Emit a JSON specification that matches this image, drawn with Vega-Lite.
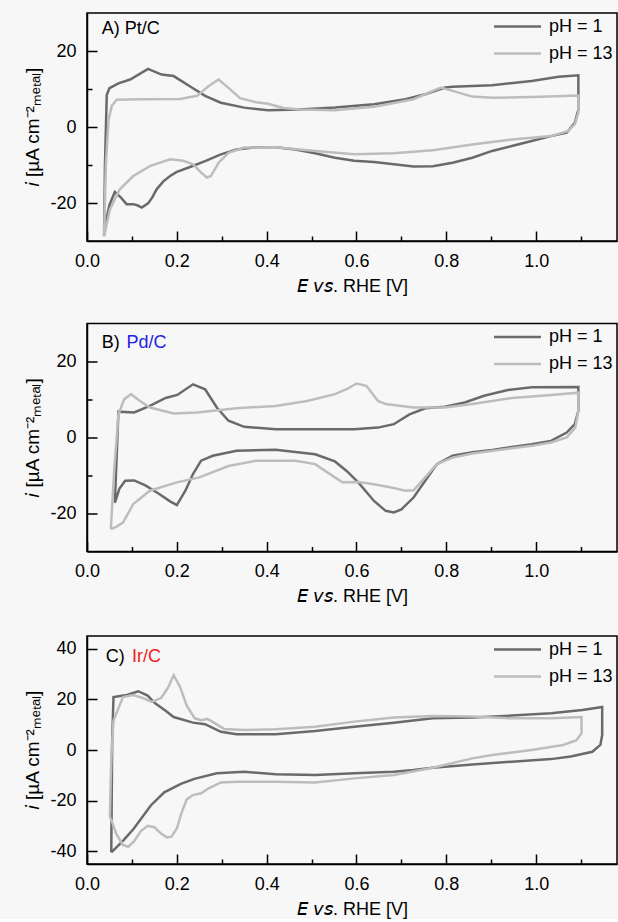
{
  "$schema": "https://vega.github.io/schema/vega-lite/v6.json",
  "background": "#f7f7f7",
  "padding": {"left": 23, "top": 12, "right": 0, "bottom": 0},
  "config": {
    "font": "Liberation Sans",
    "view": {"stroke": "black", "strokeWidth": 1.5},
    "axis": {
      "domainColor": "black", "domainWidth": 1.5, "tickColor": "black", "tickWidth": 1.5,
      "labelFont": "Liberation Sans", "labelFontSize": 18, "labelColor": "black", "labelPadding": 21,
      "titleFont": "Liberation Sans", "titleFontSize": 18, "titleFontWeight": "normal", "titleColor": "black",
      "grid": false, "labelOverlap": false, "labelFlush": false
    },
    "axisY": {"titleFontSize": 19},
    "legend": {
      "orient": "top-right", "offset": 0, "padding": 4, "title": null,
      "symbolType": "M-3,0H3", "symbolSize": 245, "symbolStrokeWidth": 2.5,
      "labelFont": "Liberation Sans", "labelFontSize": 18, "labelColor": "black", "labelOffset": 22, "rowPadding": 8
    }
  },
  "datasets": {
    "cv": [
      {"panel":"A","series":"pH = 1","k":0,"E":0.038,"i":-28.6},
      {"panel":"A","series":"pH = 1","k":1,"E":0.04,"i":-10},
      {"panel":"A","series":"pH = 1","k":2,"E":0.044,"i":8.5},
      {"panel":"A","series":"pH = 1","k":3,"E":0.05,"i":10.2},
      {"panel":"A","series":"pH = 1","k":4,"E":0.07,"i":11.5},
      {"panel":"A","series":"pH = 1","k":5,"E":0.096,"i":12.5},
      {"panel":"A","series":"pH = 1","k":6,"E":0.136,"i":15.3},
      {"panel":"A","series":"pH = 1","k":7,"E":0.166,"i":13.8},
      {"panel":"A","series":"pH = 1","k":8,"E":0.193,"i":13.4},
      {"panel":"A","series":"pH = 1","k":9,"E":0.228,"i":10.8},
      {"panel":"A","series":"pH = 1","k":10,"E":0.263,"i":8.2},
      {"panel":"A","series":"pH = 1","k":11,"E":0.298,"i":6.4},
      {"panel":"A","series":"pH = 1","k":12,"E":0.35,"i":5.1},
      {"panel":"A","series":"pH = 1","k":13,"E":0.403,"i":4.4},
      {"panel":"A","series":"pH = 1","k":14,"E":0.473,"i":4.6},
      {"panel":"A","series":"pH = 1","k":15,"E":0.552,"i":5.1},
      {"panel":"A","series":"pH = 1","k":16,"E":0.639,"i":6.0},
      {"panel":"A","series":"pH = 1","k":17,"E":0.709,"i":7.3},
      {"panel":"A","series":"pH = 1","k":18,"E":0.753,"i":8.6},
      {"panel":"A","series":"pH = 1","k":19,"E":0.797,"i":10.4},
      {"panel":"A","series":"pH = 1","k":20,"E":0.814,"i":10.6},
      {"panel":"A","series":"pH = 1","k":21,"E":0.902,"i":11.0},
      {"panel":"A","series":"pH = 1","k":22,"E":0.99,"i":12.1},
      {"panel":"A","series":"pH = 1","k":23,"E":1.05,"i":13.2},
      {"panel":"A","series":"pH = 1","k":24,"E":1.094,"i":13.6},
      {"panel":"A","series":"pH = 1","k":25,"E":1.094,"i":4.6},
      {"panel":"A","series":"pH = 1","k":26,"E":1.086,"i":1.1},
      {"panel":"A","series":"pH = 1","k":27,"E":1.068,"i":-1.5},
      {"panel":"A","series":"pH = 1","k":28,"E":1.033,"i":-2.4},
      {"panel":"A","series":"pH = 1","k":29,"E":0.99,"i":-3.7},
      {"panel":"A","series":"pH = 1","k":30,"E":0.946,"i":-5.0},
      {"panel":"A","series":"pH = 1","k":31,"E":0.902,"i":-6.3},
      {"panel":"A","series":"pH = 1","k":32,"E":0.858,"i":-8.1},
      {"panel":"A","series":"pH = 1","k":33,"E":0.814,"i":-9.4},
      {"panel":"A","series":"pH = 1","k":34,"E":0.77,"i":-10.3},
      {"panel":"A","series":"pH = 1","k":35,"E":0.727,"i":-10.4},
      {"panel":"A","series":"pH = 1","k":36,"E":0.683,"i":-9.8},
      {"panel":"A","series":"pH = 1","k":37,"E":0.639,"i":-9.2},
      {"panel":"A","series":"pH = 1","k":38,"E":0.595,"i":-8.9},
      {"panel":"A","series":"pH = 1","k":39,"E":0.552,"i":-8.1},
      {"panel":"A","series":"pH = 1","k":40,"E":0.508,"i":-6.9},
      {"panel":"A","series":"pH = 1","k":41,"E":0.464,"i":-5.9},
      {"panel":"A","series":"pH = 1","k":42,"E":0.42,"i":-5.3},
      {"panel":"A","series":"pH = 1","k":43,"E":0.377,"i":-5.3},
      {"panel":"A","series":"pH = 1","k":44,"E":0.333,"i":-5.9},
      {"panel":"A","series":"pH = 1","k":45,"E":0.298,"i":-7.2},
      {"panel":"A","series":"pH = 1","k":46,"E":0.263,"i":-9.0},
      {"panel":"A","series":"pH = 1","k":47,"E":0.228,"i":-10.6},
      {"panel":"A","series":"pH = 1","k":48,"E":0.2,"i":-11.8},
      {"panel":"A","series":"pH = 1","k":49,"E":0.185,"i":-12.9},
      {"panel":"A","series":"pH = 1","k":50,"E":0.17,"i":-14.3},
      {"panel":"A","series":"pH = 1","k":51,"E":0.155,"i":-16.4},
      {"panel":"A","series":"pH = 1","k":52,"E":0.145,"i":-18.6},
      {"panel":"A","series":"pH = 1","k":53,"E":0.136,"i":-20.1},
      {"panel":"A","series":"pH = 1","k":54,"E":0.122,"i":-21.2},
      {"panel":"A","series":"pH = 1","k":55,"E":0.112,"i":-20.6},
      {"panel":"A","series":"pH = 1","k":56,"E":0.103,"i":-20.3},
      {"panel":"A","series":"pH = 1","k":57,"E":0.088,"i":-20.3},
      {"panel":"A","series":"pH = 1","k":58,"E":0.075,"i":-18.5},
      {"panel":"A","series":"pH = 1","k":59,"E":0.062,"i":-17.1},
      {"panel":"A","series":"pH = 1","k":60,"E":0.05,"i":-20.5},
      {"panel":"A","series":"pH = 1","k":61,"E":0.042,"i":-25},
      {"panel":"A","series":"pH = 1","k":62,"E":0.038,"i":-28.6},

      {"panel":"A","series":"pH = 13","k":0,"E":0.038,"i":-28.8},
      {"panel":"A","series":"pH = 13","k":1,"E":0.042,"i":-10},
      {"panel":"A","series":"pH = 13","k":2,"E":0.048,"i":2},
      {"panel":"A","series":"pH = 13","k":3,"E":0.055,"i":5.5},
      {"panel":"A","series":"pH = 13","k":4,"E":0.066,"i":7.2},
      {"panel":"A","series":"pH = 13","k":5,"E":0.118,"i":7.3},
      {"panel":"A","series":"pH = 13","k":6,"E":0.207,"i":7.4},
      {"panel":"A","series":"pH = 13","k":7,"E":0.245,"i":8.2},
      {"panel":"A","series":"pH = 13","k":8,"E":0.271,"i":10.8},
      {"panel":"A","series":"pH = 13","k":9,"E":0.293,"i":12.5},
      {"panel":"A","series":"pH = 13","k":10,"E":0.315,"i":10.3},
      {"panel":"A","series":"pH = 13","k":11,"E":0.341,"i":7.6},
      {"panel":"A","series":"pH = 13","k":12,"E":0.377,"i":6.5},
      {"panel":"A","series":"pH = 13","k":13,"E":0.403,"i":6.1},
      {"panel":"A","series":"pH = 13","k":14,"E":0.438,"i":5.0},
      {"panel":"A","series":"pH = 13","k":15,"E":0.473,"i":4.6},
      {"panel":"A","series":"pH = 13","k":16,"E":0.552,"i":4.4},
      {"panel":"A","series":"pH = 13","k":17,"E":0.639,"i":5.3},
      {"panel":"A","series":"pH = 13","k":18,"E":0.727,"i":7.3},
      {"panel":"A","series":"pH = 13","k":19,"E":0.77,"i":9.5},
      {"panel":"A","series":"pH = 13","k":20,"E":0.788,"i":10.4},
      {"panel":"A","series":"pH = 13","k":21,"E":0.814,"i":9.5},
      {"panel":"A","series":"pH = 13","k":22,"E":0.858,"i":8.0},
      {"panel":"A","series":"pH = 13","k":23,"E":0.902,"i":7.7},
      {"panel":"A","series":"pH = 13","k":24,"E":0.99,"i":7.9},
      {"panel":"A","series":"pH = 13","k":25,"E":1.094,"i":8.3},
      {"panel":"A","series":"pH = 13","k":26,"E":1.094,"i":3.8},
      {"panel":"A","series":"pH = 13","k":27,"E":1.086,"i":0.7},
      {"panel":"A","series":"pH = 13","k":28,"E":1.07,"i":-1.1},
      {"panel":"A","series":"pH = 13","k":29,"E":1.033,"i":-2.4},
      {"panel":"A","series":"pH = 13","k":30,"E":0.99,"i":-2.8},
      {"panel":"A","series":"pH = 13","k":31,"E":0.946,"i":-3.3},
      {"panel":"A","series":"pH = 13","k":32,"E":0.858,"i":-4.6},
      {"panel":"A","series":"pH = 13","k":33,"E":0.77,"i":-6.1},
      {"panel":"A","series":"pH = 13","k":34,"E":0.683,"i":-6.9},
      {"panel":"A","series":"pH = 13","k":35,"E":0.595,"i":-7.2},
      {"panel":"A","series":"pH = 13","k":36,"E":0.508,"i":-6.3},
      {"panel":"A","series":"pH = 13","k":37,"E":0.42,"i":-5.3},
      {"panel":"A","series":"pH = 13","k":38,"E":0.35,"i":-5.4},
      {"panel":"A","series":"pH = 13","k":39,"E":0.315,"i":-6.8},
      {"panel":"A","series":"pH = 13","k":40,"E":0.293,"i":-9.4},
      {"panel":"A","series":"pH = 13","k":41,"E":0.276,"i":-12.9},
      {"panel":"A","series":"pH = 13","k":42,"E":0.267,"i":-13.3},
      {"panel":"A","series":"pH = 13","k":43,"E":0.254,"i":-12.0},
      {"panel":"A","series":"pH = 13","k":44,"E":0.236,"i":-9.8},
      {"panel":"A","series":"pH = 13","k":45,"E":0.214,"i":-8.9},
      {"panel":"A","series":"pH = 13","k":46,"E":0.185,"i":-8.5},
      {"panel":"A","series":"pH = 13","k":47,"E":0.14,"i":-10.3},
      {"panel":"A","series":"pH = 13","k":48,"E":0.103,"i":-12.9},
      {"panel":"A","series":"pH = 13","k":49,"E":0.073,"i":-16.4},
      {"panel":"A","series":"pH = 13","k":50,"E":0.051,"i":-21.7},
      {"panel":"A","series":"pH = 13","k":51,"E":0.038,"i":-28.8},

      {"panel":"B","series":"pH = 1","k":0,"E":0.062,"i":-17.2},
      {"panel":"B","series":"pH = 1","k":1,"E":0.066,"i":-5},
      {"panel":"B","series":"pH = 1","k":2,"E":0.07,"i":6.8},
      {"panel":"B","series":"pH = 1","k":3,"E":0.105,"i":6.6},
      {"panel":"B","series":"pH = 1","k":4,"E":0.14,"i":8.3},
      {"panel":"B","series":"pH = 1","k":5,"E":0.175,"i":10.4},
      {"panel":"B","series":"pH = 1","k":6,"E":0.201,"i":11.2},
      {"panel":"B","series":"pH = 1","k":7,"E":0.236,"i":14.0},
      {"panel":"B","series":"pH = 1","k":8,"E":0.263,"i":12.7},
      {"panel":"B","series":"pH = 1","k":9,"E":0.289,"i":7.9},
      {"panel":"B","series":"pH = 1","k":10,"E":0.315,"i":4.4},
      {"panel":"B","series":"pH = 1","k":11,"E":0.35,"i":2.8},
      {"panel":"B","series":"pH = 1","k":12,"E":0.42,"i":2.2},
      {"panel":"B","series":"pH = 1","k":13,"E":0.508,"i":2.2},
      {"panel":"B","series":"pH = 1","k":14,"E":0.595,"i":2.2},
      {"panel":"B","series":"pH = 1","k":15,"E":0.648,"i":2.6},
      {"panel":"B","series":"pH = 1","k":16,"E":0.683,"i":3.5},
      {"panel":"B","series":"pH = 1","k":17,"E":0.718,"i":6.1},
      {"panel":"B","series":"pH = 1","k":18,"E":0.753,"i":7.7},
      {"panel":"B","series":"pH = 1","k":19,"E":0.797,"i":8.1},
      {"panel":"B","series":"pH = 1","k":20,"E":0.841,"i":9.2},
      {"panel":"B","series":"pH = 1","k":21,"E":0.884,"i":11.0},
      {"panel":"B","series":"pH = 1","k":22,"E":0.937,"i":12.5},
      {"panel":"B","series":"pH = 1","k":23,"E":0.99,"i":13.2},
      {"panel":"B","series":"pH = 1","k":24,"E":1.094,"i":13.3},
      {"panel":"B","series":"pH = 1","k":25,"E":1.094,"i":7.0},
      {"panel":"B","series":"pH = 1","k":26,"E":1.086,"i":3.5},
      {"panel":"B","series":"pH = 1","k":27,"E":1.068,"i":1.3},
      {"panel":"B","series":"pH = 1","k":28,"E":1.033,"i":-0.9},
      {"panel":"B","series":"pH = 1","k":29,"E":0.99,"i":-1.8},
      {"panel":"B","series":"pH = 1","k":30,"E":0.946,"i":-2.5},
      {"panel":"B","series":"pH = 1","k":31,"E":0.902,"i":-3.3},
      {"panel":"B","series":"pH = 1","k":32,"E":0.858,"i":-3.9},
      {"panel":"B","series":"pH = 1","k":33,"E":0.814,"i":-4.8},
      {"panel":"B","series":"pH = 1","k":34,"E":0.779,"i":-7.0},
      {"panel":"B","series":"pH = 1","k":35,"E":0.753,"i":-11.4},
      {"panel":"B","series":"pH = 1","k":36,"E":0.727,"i":-15.8},
      {"panel":"B","series":"pH = 1","k":37,"E":0.7,"i":-18.9},
      {"panel":"B","series":"pH = 1","k":38,"E":0.683,"i":-19.7},
      {"panel":"B","series":"pH = 1","k":39,"E":0.665,"i":-19.3},
      {"panel":"B","series":"pH = 1","k":40,"E":0.639,"i":-16.7},
      {"panel":"B","series":"pH = 1","k":41,"E":0.604,"i":-11.8},
      {"panel":"B","series":"pH = 1","k":42,"E":0.578,"i":-8.8},
      {"panel":"B","series":"pH = 1","k":43,"E":0.552,"i":-6.3},
      {"panel":"B","series":"pH = 1","k":44,"E":0.508,"i":-4.4},
      {"panel":"B","series":"pH = 1","k":45,"E":0.42,"i":-3.2},
      {"panel":"B","series":"pH = 1","k":46,"E":0.333,"i":-3.5},
      {"panel":"B","series":"pH = 1","k":47,"E":0.28,"i":-4.8},
      {"panel":"B","series":"pH = 1","k":48,"E":0.254,"i":-6.1},
      {"panel":"B","series":"pH = 1","k":49,"E":0.236,"i":-9.6},
      {"panel":"B","series":"pH = 1","k":50,"E":0.219,"i":-14.0},
      {"panel":"B","series":"pH = 1","k":51,"E":0.2,"i":-17.8},
      {"panel":"B","series":"pH = 1","k":52,"E":0.185,"i":-16.8},
      {"panel":"B","series":"pH = 1","k":53,"E":0.16,"i":-14.8},
      {"panel":"B","series":"pH = 1","k":54,"E":0.13,"i":-12.6},
      {"panel":"B","series":"pH = 1","k":55,"E":0.105,"i":-11.3},
      {"panel":"B","series":"pH = 1","k":56,"E":0.085,"i":-11.4},
      {"panel":"B","series":"pH = 1","k":57,"E":0.072,"i":-13.5},
      {"panel":"B","series":"pH = 1","k":58,"E":0.062,"i":-17.2},

      {"panel":"B","series":"pH = 13","k":0,"E":0.053,"i":-24.1},
      {"panel":"B","series":"pH = 13","k":1,"E":0.061,"i":-7.9},
      {"panel":"B","series":"pH = 13","k":2,"E":0.07,"i":6.1},
      {"panel":"B","series":"pH = 13","k":3,"E":0.083,"i":10.1},
      {"panel":"B","series":"pH = 13","k":4,"E":0.098,"i":11.4},
      {"panel":"B","series":"pH = 13","k":5,"E":0.118,"i":9.6},
      {"panel":"B","series":"pH = 13","k":6,"E":0.14,"i":7.9},
      {"panel":"B","series":"pH = 13","k":7,"E":0.193,"i":6.3},
      {"panel":"B","series":"pH = 13","k":8,"E":0.245,"i":6.6},
      {"panel":"B","series":"pH = 13","k":9,"E":0.333,"i":7.7},
      {"panel":"B","series":"pH = 13","k":10,"E":0.42,"i":8.3},
      {"panel":"B","series":"pH = 13","k":11,"E":0.49,"i":9.6},
      {"panel":"B","series":"pH = 13","k":12,"E":0.552,"i":11.4},
      {"panel":"B","series":"pH = 13","k":13,"E":0.578,"i":12.7},
      {"panel":"B","series":"pH = 13","k":14,"E":0.6,"i":14.2},
      {"panel":"B","series":"pH = 13","k":15,"E":0.622,"i":13.6},
      {"panel":"B","series":"pH = 13","k":16,"E":0.648,"i":9.6},
      {"panel":"B","series":"pH = 13","k":17,"E":0.665,"i":8.8},
      {"panel":"B","series":"pH = 13","k":18,"E":0.727,"i":7.9},
      {"panel":"B","series":"pH = 13","k":19,"E":0.797,"i":7.9},
      {"panel":"B","series":"pH = 13","k":20,"E":0.858,"i":8.8},
      {"panel":"B","series":"pH = 13","k":21,"E":0.946,"i":10.4},
      {"panel":"B","series":"pH = 13","k":22,"E":1.033,"i":11.2},
      {"panel":"B","series":"pH = 13","k":23,"E":1.094,"i":11.8},
      {"panel":"B","series":"pH = 13","k":24,"E":1.094,"i":7.0},
      {"panel":"B","series":"pH = 13","k":25,"E":1.087,"i":2.6},
      {"panel":"B","series":"pH = 13","k":26,"E":1.068,"i":0},
      {"panel":"B","series":"pH = 13","k":27,"E":1.033,"i":-1.3},
      {"panel":"B","series":"pH = 13","k":28,"E":0.99,"i":-2.2},
      {"panel":"B","series":"pH = 13","k":29,"E":0.946,"i":-2.8},
      {"panel":"B","series":"pH = 13","k":30,"E":0.858,"i":-4.2},
      {"panel":"B","series":"pH = 13","k":31,"E":0.814,"i":-5.3},
      {"panel":"B","series":"pH = 13","k":32,"E":0.779,"i":-7.0},
      {"panel":"B","series":"pH = 13","k":33,"E":0.753,"i":-10.5},
      {"panel":"B","series":"pH = 13","k":34,"E":0.727,"i":-13.9},
      {"panel":"B","series":"pH = 13","k":35,"E":0.709,"i":-14.0},
      {"panel":"B","series":"pH = 13","k":36,"E":0.683,"i":-13.3},
      {"panel":"B","series":"pH = 13","k":37,"E":0.639,"i":-12.3},
      {"panel":"B","series":"pH = 13","k":38,"E":0.604,"i":-11.7},
      {"panel":"B","series":"pH = 13","k":39,"E":0.569,"i":-11.8},
      {"panel":"B","series":"pH = 13","k":40,"E":0.552,"i":-10.5},
      {"panel":"B","series":"pH = 13","k":41,"E":0.508,"i":-7.0},
      {"panel":"B","series":"pH = 13","k":42,"E":0.464,"i":-6.1},
      {"panel":"B","series":"pH = 13","k":43,"E":0.377,"i":-6.1},
      {"panel":"B","series":"pH = 13","k":44,"E":0.315,"i":-7.5},
      {"panel":"B","series":"pH = 13","k":45,"E":0.25,"i":-10.5},
      {"panel":"B","series":"pH = 13","k":46,"E":0.2,"i":-11.8},
      {"panel":"B","series":"pH = 13","k":47,"E":0.14,"i":-14.0},
      {"panel":"B","series":"pH = 13","k":48,"E":0.103,"i":-17.5},
      {"panel":"B","series":"pH = 13","k":49,"E":0.08,"i":-22.4},
      {"panel":"B","series":"pH = 13","k":50,"E":0.065,"i":-23.5},
      {"panel":"B","series":"pH = 13","k":51,"E":0.053,"i":-24.1},

      {"panel":"C","series":"pH = 1","k":0,"E":0.054,"i":-40.4},
      {"panel":"C","series":"pH = 1","k":1,"E":0.055,"i":-20},
      {"panel":"C","series":"pH = 1","k":2,"E":0.056,"i":3.3},
      {"panel":"C","series":"pH = 1","k":3,"E":0.059,"i":20.9},
      {"panel":"C","series":"pH = 1","k":4,"E":0.089,"i":21.7},
      {"panel":"C","series":"pH = 1","k":5,"E":0.114,"i":23.2},
      {"panel":"C","series":"pH = 1","k":6,"E":0.135,"i":21.5},
      {"panel":"C","series":"pH = 1","k":7,"E":0.151,"i":18.5},
      {"panel":"C","series":"pH = 1","k":8,"E":0.175,"i":15.5},
      {"panel":"C","series":"pH = 1","k":9,"E":0.193,"i":13},
      {"panel":"C","series":"pH = 1","k":10,"E":0.236,"i":10.8},
      {"panel":"C","series":"pH = 1","k":11,"E":0.263,"i":10.2},
      {"panel":"C","series":"pH = 1","k":12,"E":0.298,"i":7.2},
      {"panel":"C","series":"pH = 1","k":13,"E":0.333,"i":6.2},
      {"panel":"C","series":"pH = 1","k":14,"E":0.42,"i":6.2},
      {"panel":"C","series":"pH = 1","k":15,"E":0.508,"i":7.5},
      {"panel":"C","series":"pH = 1","k":16,"E":0.595,"i":9.2},
      {"panel":"C","series":"pH = 1","k":17,"E":0.683,"i":10.8},
      {"panel":"C","series":"pH = 1","k":18,"E":0.77,"i":12.5},
      {"panel":"C","series":"pH = 1","k":19,"E":0.858,"i":12.8},
      {"panel":"C","series":"pH = 1","k":20,"E":0.946,"i":13.6},
      {"panel":"C","series":"pH = 1","k":21,"E":1.033,"i":14.5},
      {"panel":"C","series":"pH = 1","k":22,"E":1.103,"i":15.8},
      {"panel":"C","series":"pH = 1","k":23,"E":1.147,"i":17.0},
      {"panel":"C","series":"pH = 1","k":24,"E":1.147,"i":5.9},
      {"panel":"C","series":"pH = 1","k":25,"E":1.143,"i":2.0},
      {"panel":"C","series":"pH = 1","k":26,"E":1.125,"i":-0.7},
      {"panel":"C","series":"pH = 1","k":27,"E":1.077,"i":-2.6},
      {"panel":"C","series":"pH = 1","k":28,"E":1.033,"i":-3.6},
      {"panel":"C","series":"pH = 1","k":29,"E":0.946,"i":-4.6},
      {"panel":"C","series":"pH = 1","k":30,"E":0.858,"i":-5.7},
      {"panel":"C","series":"pH = 1","k":31,"E":0.77,"i":-7.0},
      {"panel":"C","series":"pH = 1","k":32,"E":0.727,"i":-7.9},
      {"panel":"C","series":"pH = 1","k":33,"E":0.683,"i":-8.6},
      {"panel":"C","series":"pH = 1","k":34,"E":0.595,"i":-9.2},
      {"panel":"C","series":"pH = 1","k":35,"E":0.508,"i":-9.9},
      {"panel":"C","series":"pH = 1","k":36,"E":0.42,"i":-9.6},
      {"panel":"C","series":"pH = 1","k":37,"E":0.35,"i":-8.6},
      {"panel":"C","series":"pH = 1","k":38,"E":0.289,"i":-9.2},
      {"panel":"C","series":"pH = 1","k":39,"E":0.239,"i":-11.4},
      {"panel":"C","series":"pH = 1","k":40,"E":0.209,"i":-13.4},
      {"panel":"C","series":"pH = 1","k":41,"E":0.172,"i":-16.7},
      {"panel":"C","series":"pH = 1","k":42,"E":0.142,"i":-21.9},
      {"panel":"C","series":"pH = 1","k":43,"E":0.104,"i":-31.1},
      {"panel":"C","series":"pH = 1","k":44,"E":0.081,"i":-35.7},
      {"panel":"C","series":"pH = 1","k":45,"E":0.065,"i":-38.5},
      {"panel":"C","series":"pH = 1","k":46,"E":0.054,"i":-40.4},

      {"panel":"C","series":"pH = 13","k":0,"E":0.051,"i":-26.5},
      {"panel":"C","series":"pH = 13","k":1,"E":0.053,"i":-10},
      {"panel":"C","series":"pH = 13","k":2,"E":0.055,"i":0},
      {"panel":"C","series":"pH = 13","k":3,"E":0.059,"i":11.5},
      {"panel":"C","series":"pH = 13","k":4,"E":0.08,"i":20.9},
      {"panel":"C","series":"pH = 13","k":5,"E":0.103,"i":21.7},
      {"panel":"C","series":"pH = 13","k":6,"E":0.125,"i":20.5},
      {"panel":"C","series":"pH = 13","k":7,"E":0.144,"i":19},
      {"panel":"C","series":"pH = 13","k":8,"E":0.165,"i":20.5},
      {"panel":"C","series":"pH = 13","k":9,"E":0.18,"i":24.5},
      {"panel":"C","series":"pH = 13","k":10,"E":0.193,"i":29.5},
      {"panel":"C","series":"pH = 13","k":11,"E":0.207,"i":25.0},
      {"panel":"C","series":"pH = 13","k":12,"E":0.222,"i":17.5},
      {"panel":"C","series":"pH = 13","k":13,"E":0.24,"i":12.5},
      {"panel":"C","series":"pH = 13","k":14,"E":0.255,"i":11.8},
      {"panel":"C","series":"pH = 13","k":15,"E":0.268,"i":12.3},
      {"panel":"C","series":"pH = 13","k":16,"E":0.285,"i":10.5},
      {"panel":"C","series":"pH = 13","k":17,"E":0.306,"i":8.3},
      {"panel":"C","series":"pH = 13","k":18,"E":0.35,"i":7.9},
      {"panel":"C","series":"pH = 13","k":19,"E":0.42,"i":8.2},
      {"panel":"C","series":"pH = 13","k":20,"E":0.508,"i":9.2},
      {"panel":"C","series":"pH = 13","k":21,"E":0.595,"i":11.2},
      {"panel":"C","series":"pH = 13","k":22,"E":0.683,"i":12.8},
      {"panel":"C","series":"pH = 13","k":23,"E":0.77,"i":13.4},
      {"panel":"C","series":"pH = 13","k":24,"E":0.858,"i":13.2},
      {"panel":"C","series":"pH = 13","k":25,"E":0.946,"i":12.5},
      {"panel":"C","series":"pH = 13","k":26,"E":1.033,"i":12.5},
      {"panel":"C","series":"pH = 13","k":27,"E":1.101,"i":13.0},
      {"panel":"C","series":"pH = 13","k":28,"E":1.101,"i":6.6},
      {"panel":"C","series":"pH = 13","k":29,"E":1.09,"i":3.9},
      {"panel":"C","series":"pH = 13","k":30,"E":1.06,"i":2.0},
      {"panel":"C","series":"pH = 13","k":31,"E":0.99,"i":0},
      {"panel":"C","series":"pH = 13","k":32,"E":0.902,"i":-2.0},
      {"panel":"C","series":"pH = 13","k":33,"E":0.858,"i":-3.3},
      {"panel":"C","series":"pH = 13","k":34,"E":0.77,"i":-7.0},
      {"panel":"C","series":"pH = 13","k":35,"E":0.683,"i":-9.9},
      {"panel":"C","series":"pH = 13","k":36,"E":0.595,"i":-11.2},
      {"panel":"C","series":"pH = 13","k":37,"E":0.508,"i":-12.8},
      {"panel":"C","series":"pH = 13","k":38,"E":0.42,"i":-12.5},
      {"panel":"C","series":"pH = 13","k":39,"E":0.333,"i":-12.5},
      {"panel":"C","series":"pH = 13","k":40,"E":0.298,"i":-12.8},
      {"panel":"C","series":"pH = 13","k":41,"E":0.271,"i":-15.1},
      {"panel":"C","series":"pH = 13","k":42,"E":0.254,"i":-17.1},
      {"panel":"C","series":"pH = 13","k":43,"E":0.236,"i":-17.8},
      {"panel":"C","series":"pH = 13","k":44,"E":0.222,"i":-19.5},
      {"panel":"C","series":"pH = 13","k":45,"E":0.21,"i":-25},
      {"panel":"C","series":"pH = 13","k":46,"E":0.2,"i":-31},
      {"panel":"C","series":"pH = 13","k":47,"E":0.188,"i":-34.2},
      {"panel":"C","series":"pH = 13","k":48,"E":0.178,"i":-34.5},
      {"panel":"C","series":"pH = 13","k":49,"E":0.165,"i":-33},
      {"panel":"C","series":"pH = 13","k":50,"E":0.15,"i":-30.5},
      {"panel":"C","series":"pH = 13","k":51,"E":0.135,"i":-29.9},
      {"panel":"C","series":"pH = 13","k":52,"E":0.12,"i":-32},
      {"panel":"C","series":"pH = 13","k":53,"E":0.105,"i":-36},
      {"panel":"C","series":"pH = 13","k":54,"E":0.092,"i":-38.2},
      {"panel":"C","series":"pH = 13","k":55,"E":0.08,"i":-37.5},
      {"panel":"C","series":"pH = 13","k":56,"E":0.065,"i":-33},
      {"panel":"C","series":"pH = 13","k":57,"E":0.055,"i":-28},
      {"panel":"C","series":"pH = 13","k":58,"E":0.051,"i":-26.5}
    ]
  },
  "resolve": {"legend": {"color": "independent"}},
  "spacing": 26.5,
  "vconcat": [
    {
      "width": 530, "height": 228,
      "layer": [
        {
          "data": {"name": "cv"},
          "transform": [{"filter": "datum.panel === 'A'"}],
          "mark": {"type": "line", "strokeWidth": 2.5},
          "encoding": {
            "x": {"field": "E", "type": "quantitative", "scale": {"domain": [0, 1.18], "nice": false, "zero": false},
              "axis": {"title": "𝘌 𝘷𝘴. RHE [V]", "titlePadding": 2, "values": [0, 0.1, 0.2, 0.3, 0.4, 0.5, 0.6, 0.7, 0.8, 0.9, 1.0, 1.1],
                "tickSize": {"condition": {"test": "round(datum.value*10) % 2 === 0", "value": -10}, "value": -5},
                "labelExpr": "round(datum.value*10) % 2 === 0 ? format(datum.value, '.1f') : ''"}},
            "y": {"field": "i", "type": "quantitative", "scale": {"domain": [-30, 30], "nice": false, "zero": false},
              "axis": {"title": "𝘪 [µA cm⁻²ₘₑₜₐₗ]", "titlePadding": 7, "values": [-20, -10, 0, 10, 20],
                "tickSize": {"condition": {"test": "datum.value % 20 === 0", "value": -10}, "value": -5},
                "labelExpr": "datum.value % 20 === 0 ? '' + datum.value : ''"}},
            "color": {"field": "series", "type": "nominal", "scale": {"domain": ["pH = 1", "pH = 13"], "range": ["#6a6a6a", "#bdbdbd"]}},
            "order": {"field": "k", "type": "quantitative"}
          }
        },
        {
          "data": {"values": [{"E": 0.033, "i": 25.9, "t": "A) Pt/C"}]},
          "mark": {"type": "text", "align": "left", "baseline": "middle", "fontSize": 18, "color": "black"},
          "encoding": {"x": {"field": "E", "type": "quantitative"}, "y": {"field": "i", "type": "quantitative"}, "text": {"field": "t"}}
        }
      ]
    },
    {
      "resolve": {"legend": {"color": "independent"}},
      "spacing": 28.5,
      "vconcat": [
        {
          "width": 530, "height": 228,
          "layer": [
            {
              "data": {"name": "cv"},
              "transform": [{"filter": "datum.panel === 'B'"}],
              "mark": {"type": "line", "strokeWidth": 2.5},
              "encoding": {
                "x": {"field": "E", "type": "quantitative", "scale": {"domain": [0, 1.18], "nice": false, "zero": false},
                  "axis": {"title": "𝘌 𝘷𝘴. RHE [V]", "titlePadding": 2, "values": [0, 0.1, 0.2, 0.3, 0.4, 0.5, 0.6, 0.7, 0.8, 0.9, 1.0, 1.1],
                    "tickSize": {"condition": {"test": "round(datum.value*10) % 2 === 0", "value": -10}, "value": -5},
                    "labelExpr": "round(datum.value*10) % 2 === 0 ? format(datum.value, '.1f') : ''"}},
                "y": {"field": "i", "type": "quantitative", "scale": {"domain": [-30, 30], "nice": false, "zero": false},
                  "axis": {"title": "𝘪 [µA cm⁻²ₘₑₜₐₗ]", "titlePadding": 7, "values": [-20, -10, 0, 10, 20],
                    "tickSize": {"condition": {"test": "datum.value % 20 === 0", "value": -10}, "value": -5},
                    "labelExpr": "datum.value % 20 === 0 ? '' + datum.value : ''"}},
                "color": {"field": "series", "type": "nominal", "scale": {"domain": ["pH = 1", "pH = 13"], "range": ["#6a6a6a", "#bdbdbd"]}},
                "order": {"field": "k", "type": "quantitative"}
              }
            },
            {
              "data": {"values": [{"E": 0.033, "i": 25.0, "t": "B)"}]},
              "mark": {"type": "text", "align": "left", "baseline": "middle", "fontSize": 18, "color": "black"},
              "encoding": {"x": {"field": "E", "type": "quantitative"}, "y": {"field": "i", "type": "quantitative"}, "text": {"field": "t"}}
            },
            {
              "data": {"values": [{"E": 0.088, "i": 25.0, "t": "Pd/C"}]},
              "mark": {"type": "text", "align": "left", "baseline": "middle", "fontSize": 18, "color": "#1f1fe6"},
              "encoding": {"x": {"field": "E", "type": "quantitative"}, "y": {"field": "i", "type": "quantitative"}, "text": {"field": "t"}}
            }
          ]
        },
        {
          "width": 530, "height": 228,
          "layer": [
            {
              "data": {"name": "cv"},
              "transform": [{"filter": "datum.panel === 'C'"}],
              "mark": {"type": "line", "strokeWidth": 2.5},
              "encoding": {
                "x": {"field": "E", "type": "quantitative", "scale": {"domain": [0, 1.18], "nice": false, "zero": false},
                  "axis": {"title": "𝘌 𝘷𝘴. RHE [V]", "titlePadding": 2, "values": [0, 0.1, 0.2, 0.3, 0.4, 0.5, 0.6, 0.7, 0.8, 0.9, 1.0, 1.1],
                    "tickSize": {"condition": {"test": "round(datum.value*10) % 2 === 0", "value": -10}, "value": -5},
                    "labelExpr": "round(datum.value*10) % 2 === 0 ? format(datum.value, '.1f') : ''"}},
                "y": {"field": "i", "type": "quantitative", "scale": {"domain": [-45, 45], "nice": false, "zero": false},
                  "axis": {"title": "𝘪 [µA cm⁻²ₘₑₜₐₗ]", "titlePadding": 7, "values": [-40, -30, -20, -10, 0, 10, 20, 30, 40],
                    "tickSize": {"condition": {"test": "datum.value % 20 === 0", "value": -10}, "value": -5},
                    "labelExpr": "datum.value % 20 === 0 ? '' + datum.value : ''"}},
                "color": {"field": "series", "type": "nominal", "scale": {"domain": ["pH = 1", "pH = 13"], "range": ["#6a6a6a", "#bdbdbd"]}},
                "order": {"field": "k", "type": "quantitative"}
              }
            },
            {
              "data": {"values": [{"E": 0.042, "i": 36.7, "t": "C)"}]},
              "mark": {"type": "text", "align": "left", "baseline": "middle", "fontSize": 18, "color": "black"},
              "encoding": {"x": {"field": "E", "type": "quantitative"}, "y": {"field": "i", "type": "quantitative"}, "text": {"field": "t"}}
            },
            {
              "data": {"values": [{"E": 0.1, "i": 36.7, "t": "Ir/C"}]},
              "mark": {"type": "text", "align": "left", "baseline": "middle", "fontSize": 18, "color": "#ee1c1c"},
              "encoding": {"x": {"field": "E", "type": "quantitative"}, "y": {"field": "i", "type": "quantitative"}, "text": {"field": "t"}}
            }
          ]
        }
      ]
    }
  ]
}
